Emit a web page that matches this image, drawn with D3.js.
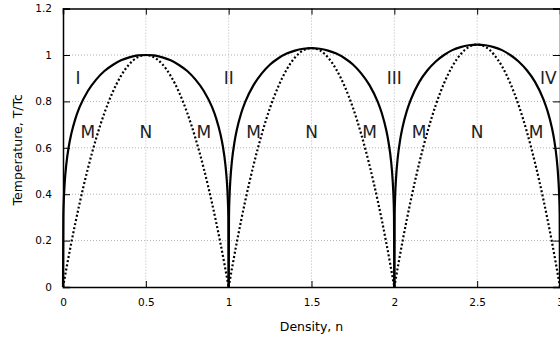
<!DOCTYPE html>
<html>
<head>
<meta charset="utf-8">
<script src="https://cdn.jsdelivr.net/npm/d3@7"></script>
<style>
  body { margin: 0; background: #fff; }
  svg { display: block; font-family: "DejaVu Sans", sans-serif; }
</style>
</head>
<body>
<svg class="phase-chart"></svg>
<script>
// half-dome offsets from each integer density (mirrored for the other half)
const solidOffsets = [0, 0.002, 0.005, 0.01, 0.02, 0.035, 0.05, 0.075, 0.1, 0.15, 0.2, 0.25, 0.3, 0.35, 0.4, 0.45, 0.5];
const solidDome1 = [0, 0.30, 0.376, 0.446, 0.529, 0.606, 0.660, 0.726, 0.775, 0.845, 0.894, 0.931, 0.957, 0.977, 0.990, 0.998, 1.0];
const solidDome2 = [0, 0.309, 0.387, 0.459, 0.545, 0.624, 0.680, 0.748, 0.798, 0.870, 0.921, 0.959, 0.986, 1.006, 1.019, 1.027, 1.03];
const solidDome3 = [0, 0.313, 0.393, 0.466, 0.553, 0.634, 0.690, 0.758, 0.809, 0.883, 0.934, 0.972, 1.000, 1.021, 1.034, 1.042, 1.045];

const dottedOffsets = [0, 0.05, 0.1, 0.15, 0.2, 0.25, 0.3, 0.35, 0.4, 0.45, 0.5];
const dottedDome1 = [0, 0.19, 0.36, 0.51, 0.64, 0.75, 0.84, 0.91, 0.96, 0.99, 1.0];
const dottedDome2 = [0, 0.196, 0.371, 0.525, 0.659, 0.773, 0.865, 0.937, 0.989, 1.020, 1.03];
const dottedDome3 = [0, 0.199, 0.376, 0.533, 0.669, 0.784, 0.878, 0.951, 1.003, 1.035, 1.045];

const domeStarts = [0, 1, 2];

const xTicks = [0, 0.5, 1, 1.5, 2, 2.5, 3];
const yTicks = [0, 0.2, 0.4, 0.6, 0.8, 1, 1.2];

const regionLabels = [
  { text: "I", n: 0.09, t: 0.9 },
  { text: "II", n: 1.0, t: 0.9 },
  { text: "III", n: 2.0, t: 0.9 },
  { text: "IV", n: 2.93, t: 0.9 }
];
const phaseLabels = [
  { text: "M", n: 0.15 }, { text: "N", n: 0.5 }, { text: "M", n: 0.85 },
  { text: "M", n: 1.15 }, { text: "N", n: 1.5 }, { text: "M", n: 1.85 },
  { text: "M", n: 2.15 }, { text: "N", n: 2.5 }, { text: "M", n: 2.855 }
];
const phaseLabelT = 0.668;

function domePoints(start, offsets, values) {
  const left = offsets.map((o, i) => ({ n: start + o, t: values[i] }));
  const right = offsets.slice(0, -1).map((o, i) => ({ n: start + 1 - o, t: values[i] })).reverse();
  return left.concat(right);
}

function drawChart() {
  const svgWidth = 560, svgHeight = 338;
  const margin = { top: 8.6, right: 0, bottom: 51, left: 63 };
  const width = svgWidth - margin.left - margin.right;
  const height = svgHeight - margin.top - margin.bottom;

  const svg = d3.select('svg.phase-chart')
    .attr('width', svgWidth)
    .attr('height', svgHeight);

  const g = svg.append('g')
    .attr('transform', `translate(${margin.left}, ${margin.top})`);

  const x = d3.scaleLinear().domain([0, 3]).range([0, width]);
  const y = d3.scaleLinear().domain([0, 1.2]).range([height, 0]);

  // grid
  g.append('g')
    .selectAll('line.vgrid')
    .data(xTicks.slice(1, -1))
    .join('line')
    .attr('x1', d => x(d)).attr('x2', d => x(d))
    .attr('y1', 0).attr('y2', height)
    .attr('stroke', '#b8b8b8')
    .attr('stroke-dasharray', '1,2');
  g.append('g')
    .selectAll('line.hgrid')
    .data(yTicks.slice(1, -1))
    .join('line')
    .attr('y1', d => y(d)).attr('y2', d => y(d))
    .attr('x1', 0).attr('x2', width)
    .attr('stroke', '#b0b0b0')
    .attr('stroke-dasharray', '1,2');

  // axes with inward ticks
  const axisBottom = g.append('g')
    .attr('transform', `translate(0, ${height})`)
    .call(d3.axisBottom(x).tickValues(xTicks).tickSize(-6).tickPadding(12).tickFormat(d3.format('')));
  const axisLeft = g.append('g')
    .call(d3.axisLeft(y).tickValues(yTicks).tickSize(-7).tickPadding(11).tickFormat(d3.format('')));
  const axisTop = g.append('g')
    .call(d3.axisTop(x).tickValues(xTicks).tickSize(-6).tickFormat(''));
  const axisRight = g.append('g')
    .attr('transform', `translate(${width}, 0)`)
    .call(d3.axisRight(y).tickValues(yTicks).tickSize(-7).tickFormat(''));

  [axisBottom, axisLeft, axisTop, axisRight].forEach(a => {
    a.select('.domain').attr('stroke', '#000').attr('stroke-width', 1.5);
    a.selectAll('.tick line').attr('stroke', '#000');
    a.selectAll('.tick text').attr('font-size', 10.5).attr('fill', '#000')
      .attr('font-family', '"DejaVu Sans", sans-serif');
  });

  const line = d3.line()
    .x(d => x(d.n))
    .y(d => y(d.t))
    .curve(d3.curveMonotoneX);

  const solidDomes = [solidDome1, solidDome2, solidDome3];
  const dottedDomes = [dottedDome1, dottedDome2, dottedDome3];

  domeStarts.forEach((start, i) => {
    g.append('path')
      .datum(domePoints(start, dottedOffsets, dottedDomes[i]))
      .attr('fill', 'none')
      .attr('stroke', '#000')
      .attr('stroke-width', 2.2)
      .attr('stroke-dasharray', '2,2.2')
      .attr('d', line);
    g.append('path')
      .datum(domePoints(start, solidOffsets, solidDomes[i]))
      .attr('fill', 'none')
      .attr('stroke', '#000')
      .attr('stroke-width', 2.2)
      .attr('stroke-linejoin', 'round')
      .attr('d', line);
  });

  g.selectAll('text.region')
    .data(regionLabels)
    .join('text')
    .attr('class', 'region')
    .attr('x', d => x(d.n))
    .attr('y', d => y(d.t))
    .attr('dy', '0.36em')
    .attr('text-anchor', 'middle')
    .attr('font-size', 17)
    .attr('fill', '#222')
    .text(d => d.text);

  g.selectAll('text.phase')
    .data(phaseLabels)
    .join('text')
    .attr('class', 'phase')
    .attr('x', d => x(d.n))
    .attr('y', y(phaseLabelT))
    .attr('dy', '0.36em')
    .attr('text-anchor', 'middle')
    .attr('font-size', 17)
    .attr('fill', '#222')
    .text(d => d.text);

  svg.append('text')
    .attr('x', margin.left + x(1.5))
    .attr('y', 327)
    .attr('dy', '0.35em')
    .attr('text-anchor', 'middle')
    .attr('font-size', 12.5)
    .text('Density, n');

  svg.append('text')
    .attr('transform', `translate(18, ${margin.top + height / 2 + 2}) rotate(-90)`)
    .attr('dy', '0.35em')
    .attr('text-anchor', 'middle')
    .attr('font-size', 12.5)
    .text('Temperature, T/Tc');
}

drawChart();
</script>
</body>
</html>
